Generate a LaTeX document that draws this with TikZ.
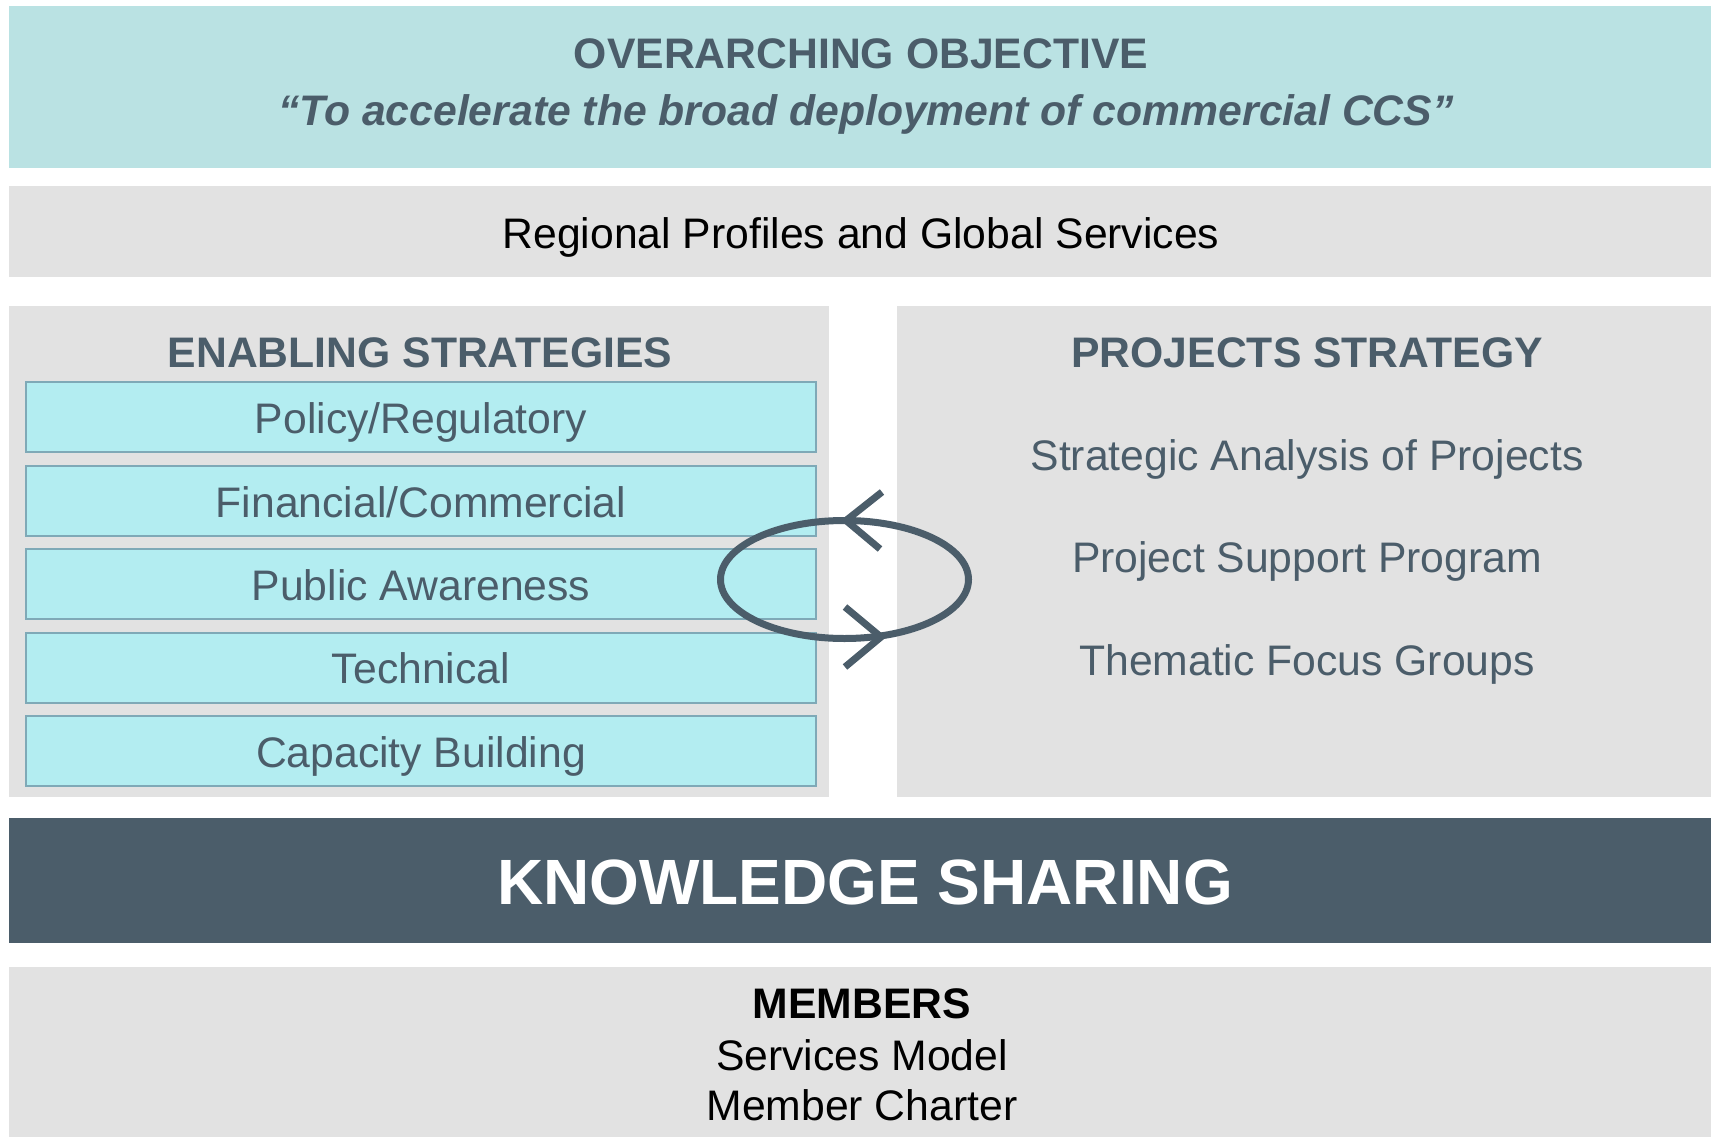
\documentclass[tikz,border=0pt]{standalone}
\usepackage{fontspec}
\setmainfont{Liberation Sans}
\definecolor{objbg}{HTML}{BAE2E3}
\definecolor{greybg}{HTML}{E2E2E2}
\definecolor{cyanbg}{HTML}{B3EDF1}
\definecolor{cyanline}{HTML}{7FA9B7}
\definecolor{slate}{HTML}{4B5D6A}
\begin{document}
\begin{tikzpicture}[x=1pt,y=-1pt,
  band/.style={draw=none,inner sep=0pt,outer sep=0pt},
  subbox/.style={fill=cyanbg,draw=cyanline,line width=2pt,inner sep=0pt,minimum width=790pt,minimum height=70pt},
  txt/.style={anchor=base,inner sep=0pt,font=\fontsize{42.7}{48}\selectfont,text=slate},
  hdr/.style={txt,font=\fontsize{42.7}{48}\selectfont\bfseries},
  loopline/.style={draw=slate,line width=7pt,line cap=butt,line join=miter}]
\useasboundingbox (0,0) rectangle (1711,1137);
\fill[white] (0,0) rectangle (1711,1137);
% bands
\node[band,fill=objbg,minimum width=1702pt,minimum height=162pt] (obj) at (860,87) {};
\node[band,fill=greybg,minimum width=1702pt,minimum height=91pt] (reg) at (860,231.5) {};
\node[band,fill=greybg,minimum width=820pt,minimum height=491pt] (ena) at (419,551.5) {};
\node[band,fill=greybg,minimum width=814pt,minimum height=491pt] (pro) at (1304,551.5) {};
\node[band,fill=slate,minimum width=1702pt,minimum height=125pt] (ks) at (860,880.5) {};
\node[band,fill=greybg,minimum width=1702pt,minimum height=170pt] (mem) at (860,1052) {};
% texts
\node[hdr] (objt) at (861,69) {OVERARCHING OBJECTIVE};
\node[hdr,font=\fontsize{42.7}{48}\selectfont\bfseries\itshape] (objq) at (866,126) {“To accelerate the broad deployment of commercial CCS”};
\node[txt,text=black] (regt) at (861,248) {Regional Profiles and Global Services};
\node[hdr] (enat) at (420,367) {ENABLING STRATEGIES};
\node[subbox] (b1) at (421,417) {};
\node[subbox] (b2) at (421,500.5) {};
\node[subbox] (b3) at (421,584) {};
\node[subbox] (b4) at (421,667.5) {};
\node[subbox] (b5) at (421,751) {};
\node[txt] (t1) at (421,433) {Policy/Regulatory};
\node[txt] (t2) at (421,517) {Financial/Commercial};
\node[txt] (t3) at (421,600) {Public Awareness};
\node[txt] (t4) at (421,683) {Technical};
\node[txt] (t5) at (421,767) {Capacity Building};
\node[hdr] (prot) at (1307,367) {PROJECTS STRATEGY};
\node[txt] (p1) at (1307,470) {Strategic Analysis of Projects};
\node[txt] (p2) at (1307,572) {Project Support Program};
\node[txt] (p3) at (1307,675) {Thematic Focus Groups};
\node[txt,text=white,font=\fontsize{64}{72}\selectfont\bfseries] (kst) at (865,904) {KNOWLEDGE SHARING};
\node[hdr,text=black] (memt) at (862,1018) {MEMBERS};
\node[txt,text=black] (mem1) at (862,1070) {Services Model};
\node[txt,text=black] (mem2) at (862,1120) {Member Charter};
% cycle
\coordinate (cyc) at (844.5,579.5);
\draw[loopline] (cyc) ellipse [x radius=124pt, y radius=59pt];
\draw[loopline] (882,492) -- (846,520.5) -- (880,549);
\draw[loopline] (845,607) -- (881,637) -- (845,667);
\end{tikzpicture}
\end{document}
